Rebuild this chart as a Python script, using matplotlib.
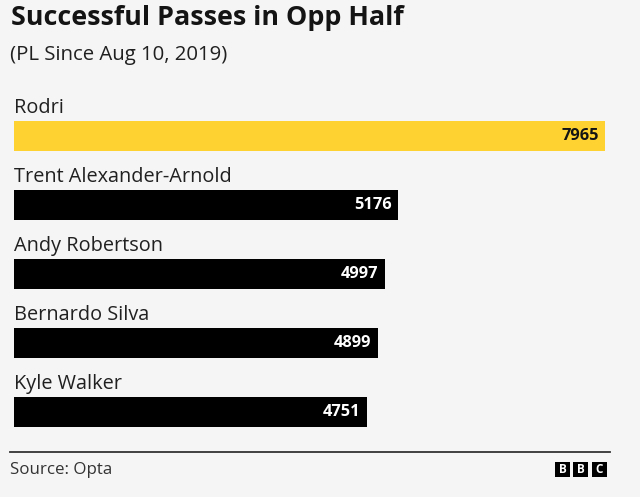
import matplotlib.pyplot as plt
from matplotlib.patches import Rectangle

players = ['Rodri', 'Trent Alexander-Arnold', 'Andy Robertson', 'Bernardo Silva', 'Kyle Walker']
passes = [7965, 5176, 4997, 4899, 4751]
colors = ['#fdd231', '#000000', '#000000', '#000000', '#000000']
value_colors = ['#141414', '#ffffff', '#ffffff', '#ffffff', '#ffffff']

plt.rcParams['font.family'] = ['Open Sans', 'DejaVu Sans']
bg = '#f5f5f5'
W, H = 640, 497

fig = plt.figure(figsize=(W / 100, H / 100), dpi=100, facecolor=bg)

# axes placed in pixel terms: left 14px, right 605px, top 95px, bottom 435px
top_px, bot_px = 95, 435
ax = fig.add_axes([14 / W, 1 - bot_px / H, (605 - 14) / W, (bot_px - top_px) / H])
ax.set_facecolor(bg)
step = 69.0
y = list(range(len(players)))
ax.barh(y, passes, height=30 / step, color=colors, align='center')
ax.set_xlim(0, max(passes))
ax.set_ylim((bot_px - 136) / step, (top_px - 136) / step)
for s in ax.spines.values():
    s.set_visible(False)
ax.set_xticks([])
ax.set_yticks([])

for i, (name, v) in enumerate(zip(players, passes)):
    ax.text(0, i - 27.5 / step, name, ha='left', va='center', fontsize=14.3, color='#202020')
    ax.annotate(str(v), xy=(v, i), xytext=(-4.5, 0), textcoords='offset points',
                ha='right', va='center', fontsize=11.8, fontweight='bold',
                color=value_colors[i])

fig.text(11 / W, 1 - 18 / H, 'Successful Passes in Opp Half', fontsize=19.4,
         fontweight='bold', color='#141414', ha='left', va='center')
fig.text(10 / W, 1 - 55 / H, '(PL Since Aug 10, 2019)', fontsize=14.7,
         color='#202020', ha='left', va='center')

# footer
fig.add_artist(plt.Line2D([10 / W, 610 / W], [1 - 452 / H, 1 - 452 / H],
                          color='#333333', linewidth=1.3))
fig.text(10 / W, 1 - 470 / H, 'Source: Opta', fontsize=12.2, color='#333333',
         ha='left', va='center')
for k, letter in enumerate('BBC'):
    x0 = 555 + k * 18.3
    fig.add_artist(Rectangle((x0 / W, 1 - 477 / H), 15 / W, 15 / H,
                             facecolor='#000000', edgecolor='none',
                             transform=fig.transFigure))
    fig.text((x0 + 7.5) / W, 1 - 469.5 / H, letter, fontsize=8.5, fontweight='bold',
             color='white', ha='center', va='center')

fig.savefig('out.png', dpi=100, facecolor=bg)
